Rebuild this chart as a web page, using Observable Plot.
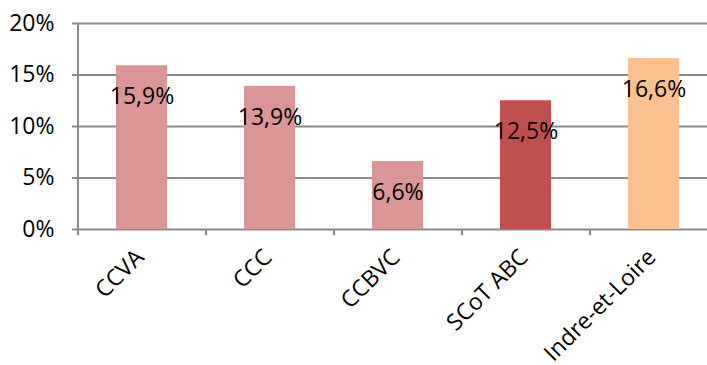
<!DOCTYPE html>
<html><head><meta charset="utf-8">
<script src="https://cdn.jsdelivr.net/npm/d3@7"></script>
<script src="https://cdn.jsdelivr.net/npm/@observablehq/plot@0.6"></script>
<style>
html,body{margin:0;padding:0;background:#fff;overflow:hidden;}
</style>
</head><body><div id="chart"></div>
<script>
const categories = ["CCVA", "CCC", "CCBVC", "SCoT ABC", "Indre-et-Loire"];
const values = [15.9, 13.9, 6.6, 12.5, 16.6];
const colors = ["#D99694", "#D99694", "#D99694", "#C0504D", "#FAC090"];
const yTicks = [0, 5, 10, 15, 20];

const data = categories.map((c, i) => ({cat: c, value: values[i], color: colors[i]}));
const fmt = v => v.toFixed(1).replace(".", ",") + "%";
const font = "'Open Sans', sans-serif";

const chart = Plot.plot({
  width: 707,
  height: 365,
  marginTop: 23,
  marginBottom: 136,
  marginLeft: 78,
  marginRight: 0,
  style: {fontFamily: font, fontSize: "23px", color: "#000", background: "#fff"},
  x: {domain: categories, range: [78, 718], paddingInner: 0.6, paddingOuter: 0.3, align: 0.5},
  y: {type: "linear", domain: [0, 20]},
  marks: [
    Plot.ruleY(yTicks, {y: d => d, stroke: "#8a8a8a", strokeWidth: 2}),
    Plot.axisY({ticks: yTicks, tickFormat: d => d + "%", tickSize: 6, tickPadding: 18, stroke: "#8a8a8a", strokeWidth: 2, label: null, fontSize: 23}),
    Plot.barY(data, {x: "cat", y: "value", fill: "color"}),
    Plot.ruleX(categories.slice(0, 1), {x: d => d, dx: -64, y1: -0.6, y2: 20, stroke: "#8a8a8a", strokeWidth: 2}),
    Plot.ruleX(categories, {x: d => d, dx: 64, y1: -0.6, y2: 0, stroke: "#8a8a8a", strokeWidth: 2}),
    Plot.text(data, {x: "cat", y: "value", text: d => fmt(d.value), dy: 31, fontSize: 23, fill: "#000"}),
    Plot.axisX({tickRotate: -45, tickSize: 0, tickPadding: 24, label: null, fontSize: 23, dx: -2})
  ]
});
document.getElementById("chart").appendChild(chart);
</script>
</body></html>
